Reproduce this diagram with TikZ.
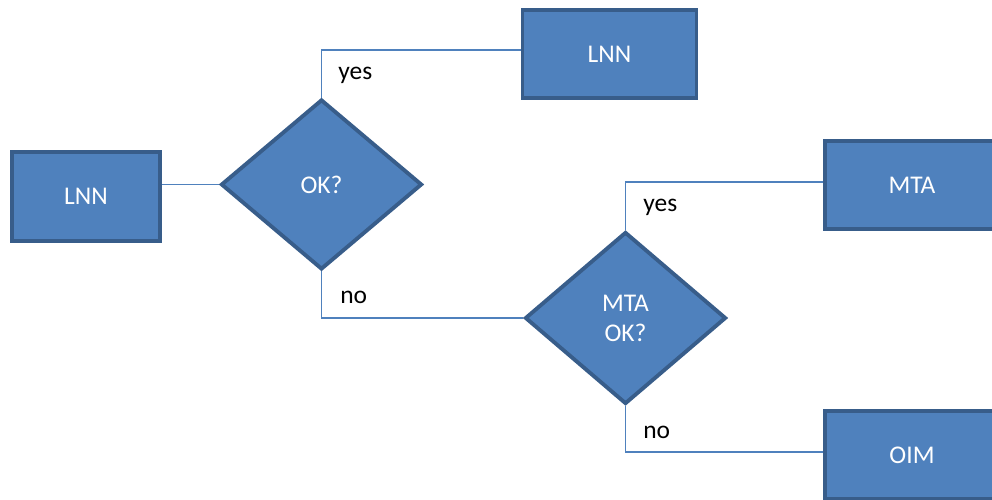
\documentclass[tikz,border=0pt]{standalone}
\usepackage{fontspec}
\setmainfont{Carlito}
\usepackage{tikz}
\usetikzlibrary{shapes.geometric,positioning,backgrounds}

\definecolor{boxfill}{HTML}{4F81BD}
\definecolor{boxline}{HTML}{385D8A}

\tikzset{
    block/.style={draw=boxline, fill=boxfill, line width=2.2pt, text=white,
        minimum width=3.48cm, minimum height=1.76cm, inner sep=0pt,
        font=\fontsize{14.5}{17}\selectfont},
    decision/.style={diamond, draw=boxline, fill=boxfill, line width=2.2pt, text=white,
        minimum width=4.02cm, minimum height=3.40cm, inner sep=0pt, align=center,
        font=\fontsize{14.5}{17}\selectfont},
    link/.style={draw=boxfill, line width=0.85pt},
    answer/.style={anchor=west, inner sep=0pt, font=\fontsize{14.5}{17}\selectfont}
}

\begin{document}
\begin{tikzpicture}
    \clip (0,0) rectangle (19.84,10);
    \useasboundingbox (0,0) rectangle (19.84,10);

    % Blocks and decisions
    \node[block, minimum width=2.96cm, minimum height=1.78cm] (lnn) at (1.72,6.07) {LNN};
    \node[decision] (ok) at (6.43,6.31) {OK?};
    \node[block] (lnnTop) at (12.19,8.92) {LNN};
    \node[decision, minimum height=3.44cm] (mtaOk) at (12.51,3.64) {MTA\\OK?};
    \node[block] (mta) at (18.24,6.30) {MTA};
    \node[block] (oim) at (18.24,0.90) {OIM};

    % Connectors
    \begin{scope}[on background layer]
        \fill[white] (0,0) rectangle (19.84,10);
        \draw[link] (ok.west) -- (ok.west -| lnn.east);
        \draw[link] (ok.north) |- ([yshift=0.08cm]lnnTop.west);
        \draw[link] (ok.south) |- (mtaOk.west);
        \draw[link] (mtaOk.north) |- ([yshift=0.06cm]mta.west);
        \draw[link] (mtaOk.south) |- ([yshift=0.06cm]oim.west);
    \end{scope}

    % Answers
    \node[answer] (yes1) at (6.76,8.50) {yes};
    \node[answer] (no1) at (6.80,4.06) {no};
    \node[answer] (yes2) at (12.86,5.86) {yes};
    \node[answer] (no2) at (12.86,1.36) {no};
\end{tikzpicture}
\end{document}
